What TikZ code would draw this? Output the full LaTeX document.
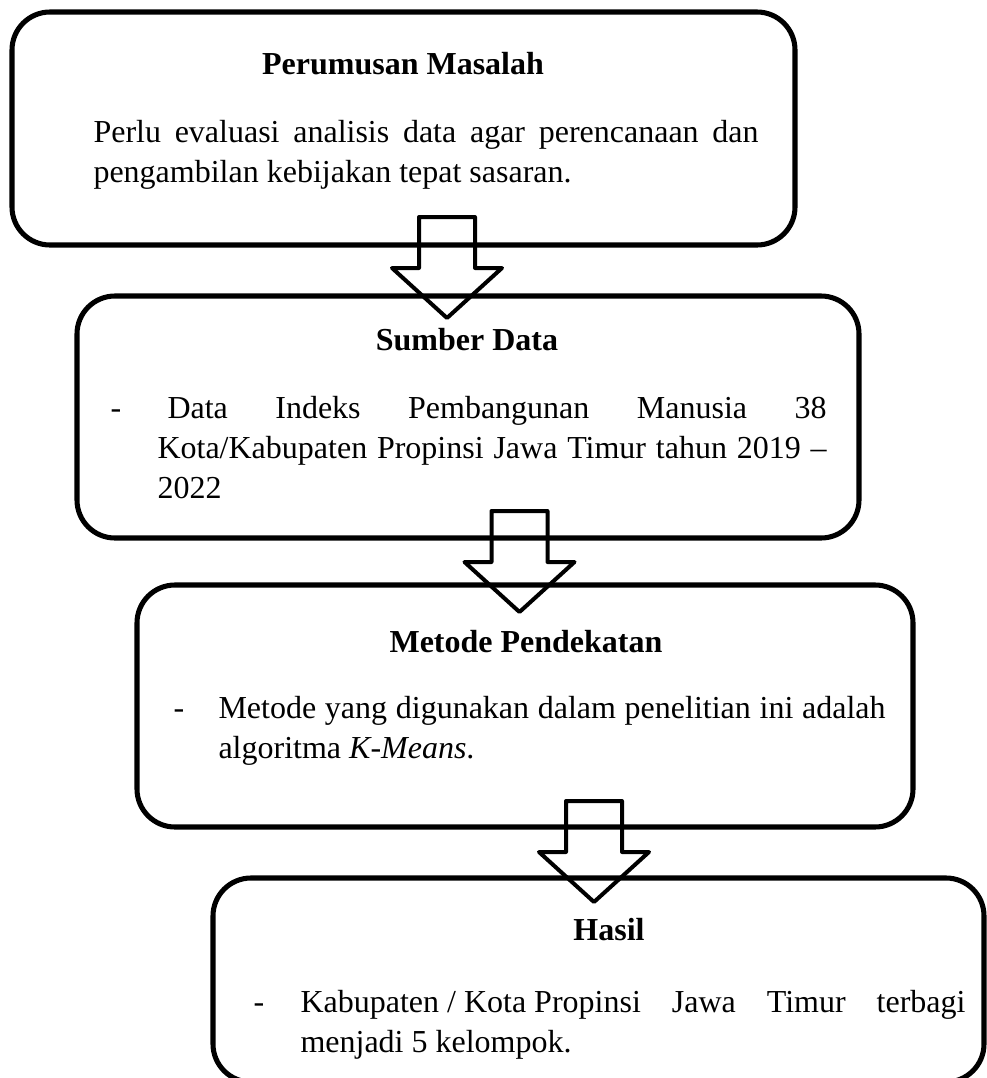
\documentclass[tikz,border=0pt]{standalone}
\usepackage{fontspec}
\setmainfont{Liberation Serif}
\usetikzlibrary{positioning}
\newlength\pxunit
\setlength\pxunit{0.375pt}

\begin{document}
\begin{tikzpicture}[x=0.375pt,y=-0.375pt]
\tikzset{
  flowbox/.style 2 args={draw=black,line width=1.9pt,rounded corners=14.25pt,inner sep=0pt,
    minimum width=#1*\pxunit,minimum height=#2*\pxunit},
  boxtitle/.style={anchor=base,inner sep=0pt,font=\fontsize{12}{15}\selectfont\bfseries},
  boxtext/.style={anchor=base west,inner sep=0pt,align=justify,text width=#1*\pxunit,
    font=\fontsize{12}{15}\selectfont},
  blockarrow/.style={draw=black,line width=1.5pt,line join=round}
}
\useasboundingbox (0,0) rectangle (987,1078);
\clip (0,0) rectangle (987,1078);

% boxes
\node[flowbox={783}{233}] (n_box1) at (403.5,128.5) {};
\node[flowbox={782}{242}] (n_box2) at (468,417) {};
\node[flowbox={776}{242}] (n_box3) at (525,706) {};
\node[flowbox={771}{204}] (n_box4) at (598.5,980) {};

% titles and texts
\node[boxtitle] (n_title1) at (403,74) {Perumusan Masalah};
\node[boxtext=665] (n_text1) at (93,142)
  {Perlu evaluasi analisis data agar perencanaan dan pengambilan kebijakan tepat sasaran.};
\node[boxtitle] (n_title2) at (467,350) {Sumber Data};
\node[boxtext=716] (n_text2) at (110,418)
  {\makebox[47\pxunit][l]{-}\hangindent=47\pxunit\hangafter=1\hspace{10\pxunit}Data Indeks Pembangunan Manusia 38\linebreak
   Kota/Kabupaten Propinsi Jawa Timur tahun 2019 --\linebreak 2022\par};
\node[boxtitle] (n_title3) at (526,652) {Metode Pendekatan};
\node[boxtext=712] (n_text3) at (173,718)
  {\makebox[45\pxunit][l]{-}\hangindent=45\pxunit\hangafter=1\relax Metode yang digunakan dalam penelitian ini adalah\linebreak
   algoritma \textit{K-Means}.\par};
\node[boxtitle] (n_title4) at (609,940) {Hasil};
\node[boxtext=712] (n_text4) at (253,1012)
  {\makebox[47\pxunit][l]{-}\hangindent=47\pxunit\hangafter=1\relax Kabupaten\hspace{0.25em}/\hspace{0.25em}Kota\hspace{0.25em}Propinsi
   Jawa Timur terbagi\linebreak menjadi 5 kelompok.\par};

% block arrows
\coordinate (n_a1) at (447,217);
\coordinate (n_a2) at (519.5,511);
\coordinate (n_a3) at (594,801);
\foreach \a in {n_a1,n_a2,n_a3}
  \draw[blockarrow] (\a) ++(-28,0) -- ++(56,0) -- ++(0,51) -- ++(27,0) -- ++(-55,50)
    -- ++(-55,-50) -- ++(27,0) -- cycle;
\end{tikzpicture}
\end{document}
